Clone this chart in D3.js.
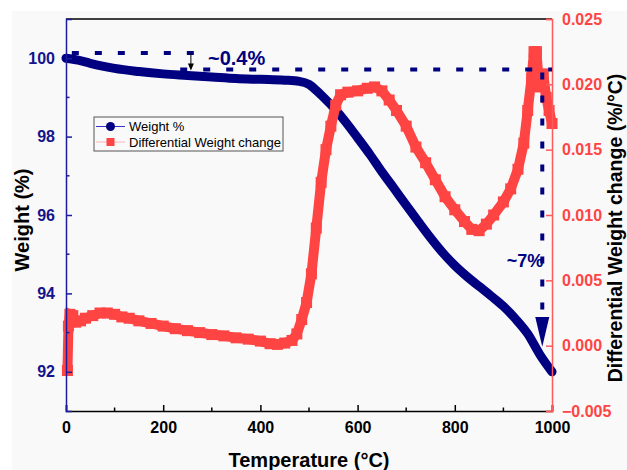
<!DOCTYPE html>
<html>
<head>
<meta charset="utf-8">
<script src="https://cdn.jsdelivr.net/npm/d3@7"></script>
<style>
  body { margin: 0; background: #fff; }
  text { font-family: Arial, "Liberation Sans", sans-serif; }
</style>
</head>
<body>
<svg width="627" height="470"></svg>
<script>
// size of the picture and the plot box
var width = 627, height = 470;
var plotLeft = 66, plotRight = 552, plotTop = 19, plotBottom = 411;

// weight curve: [temperature, weight %]
var weightData = [
  [0, 100.0], [25, 99.95], [50, 99.87], [75, 99.8], [100, 99.74], [150, 99.66],
  [200, 99.6], [250, 99.56], [300, 99.52], [350, 99.48], [400, 99.46], [450, 99.44],
  [480, 99.41], [500, 99.33], [515, 99.18], [530, 99.0], [550, 98.75], [575, 98.38],
  [600, 97.97], [625, 97.55], [650, 97.1], [675, 96.68], [700, 96.25], [725, 95.83],
  [750, 95.42], [775, 95.04], [800, 94.71], [825, 94.43], [850, 94.18], [875, 93.93],
  [900, 93.67], [925, 93.35], [950, 92.97], [975, 92.44], [1000, 92.0]
];

// differential weight change: [temperature, %/°C]
var diffData = [
  [3, -0.0019], [5, 0.0015], [8, 0.0024], [14, 0.0023], [20, 0.0018], [30, 0.0019],
  [40, 0.0021], [55, 0.0023], [70, 0.0025], [85, 0.0025], [100, 0.0024], [115, 0.0022],
  [130, 0.0021], [150, 0.0019], [175, 0.0017], [200, 0.0015], [225, 0.0013],
  [250, 0.00115], [275, 0.001], [300, 0.00085], [325, 0.00075], [350, 0.0006],
  [375, 0.0005], [400, 0.00035], [420, 0.00015], [435, 0.0001], [450, 0.0002],
  [465, 0.0004], [475, 0.0009], [485, 0.002], [495, 0.0033], [505, 0.0055],
  [515, 0.009], [525, 0.0125], [535, 0.015], [545, 0.0168], [555, 0.0184],
  [565, 0.0192], [580, 0.0194], [600, 0.0195], [620, 0.0197], [635, 0.0198],
  [650, 0.0195], [665, 0.0188], [680, 0.018], [700, 0.0168], [720, 0.0152],
  [740, 0.014], [760, 0.0127], [780, 0.0114], [800, 0.0104], [820, 0.0095],
  [835, 0.0089], [850, 0.0088], [865, 0.0093], [880, 0.01], [900, 0.011],
  [915, 0.012], [930, 0.0135], [942, 0.0155], [950, 0.018], [958, 0.0205],
  [963, 0.0225], [968, 0.0225], [972, 0.0205], [976, 0.0198], [982, 0.0208],
  [988, 0.019], [994, 0.018], [1000, 0.017]
];

// tick labels
var xTicks = [0, 200, 400, 600, 800, 1000];
var xMinor = [100, 300, 500, 700, 900];
var yTicks = [92, 94, 96, 98, 100];
var yMinor = [93, 95, 97, 99];
var y2Ticks = [-0.005, 0, 0.005, 0.01, 0.015, 0.02, 0.025];

// annotation values
var smallDrop = {t0: 12, t1: 266, from: 100.13, to: 99.71, arrowT: 257};
var bigDrop = {t0: 235, t1: 1000, level: 99.71, arrowT: 980, headTop: 93.4, headTip: 92.64};

var navy = '#000080', red = '#ff4444';
var font = 'Arial, "Liberation Sans", sans-serif';

var svg = d3.select('svg');

svg.append('rect').attr('x', 12).attr('y', 11)
  .attr('width', width - 12).attr('height', height - 11).attr('fill', '#f9f9f9');

var x = d3.scaleLinear().domain([0, 1000]).range([plotLeft, plotRight]);
var y = d3.scaleLinear().domain([91, 101]).range([plotBottom, plotTop]);
var y2 = d3.scaleLinear().domain([-0.005, 0.025]).range([plotBottom, plotTop]);

// curves
var weightLine = d3.line()
  .x(function(d) { return x(d[0]); })
  .y(function(d) { return y(d[1]); })
  .curve(d3.curveMonotoneX);

svg.append('path').datum(weightData)
  .attr('d', weightLine)
  .attr('fill', 'none').attr('stroke', navy)
  .attr('stroke-width', 9).attr('stroke-linecap', 'round');

var diffLine = d3.line()
  .x(function(d) { return x(d[0]); })
  .y(function(d) { return y2(d[1]); });

svg.append('path').datum(diffData)
  .attr('d', diffLine)
  .attr('fill', 'none').attr('stroke', red)
  .attr('stroke-width', 10);

svg.append('g').selectAll('rect').data(diffData).enter()
  .append('rect')
  .attr('x', function(d) { return x(d[0]) - 5.5; })
  .attr('y', function(d) { return y2(d[1]) - 5.5; })
  .attr('width', 11).attr('height', 11)
  .attr('fill', red);

// top border
svg.append('line').attr('x1', plotLeft).attr('x2', plotRight).attr('y1', plotTop).attr('y2', plotTop)
  .attr('stroke', '#000').attr('stroke-width', 1.5);

// bottom axis
var gx = svg.append('g').attr('transform', 'translate(0,' + plotBottom + ')')
  .call(d3.axisBottom(x).tickValues(xTicks).tickSize(-6).tickPadding(11).tickFormat(d3.format('d')));
gx.append('g').selectAll('line').data(xMinor).enter().append('line')
  .attr('x1', x).attr('x2', x).attr('y1', 0).attr('y2', -3.5);
gx.select('.domain').attr('stroke', '#000').attr('stroke-width', 1.5);
gx.selectAll('line').attr('stroke', '#000').attr('stroke-width', 1.5);
gx.selectAll('text').attr('font-size', 16).attr('font-weight', 'bold').attr('fill', '#000')
  .attr('font-family', font);

// left axis
var gy = svg.append('g').attr('transform', 'translate(' + plotLeft + ',0)')
  .call(d3.axisLeft(y).tickValues(yTicks).tickSize(-6).tickPadding(11).tickFormat(d3.format('d')));
gy.append('g').selectAll('line').data(yMinor).enter().append('line')
  .attr('y1', y).attr('y2', y).attr('x1', 0).attr('x2', 3.5);
gy.select('.domain').attr('stroke', '#1c1ca0').attr('stroke-width', 1.5);
gy.selectAll('line').attr('stroke', '#1c1ca0').attr('stroke-width', 1.5);
gy.selectAll('text').attr('font-size', 16).attr('font-weight', 'bold').attr('fill', '#14148c')
  .attr('font-family', font);

// right axis
var gy2 = svg.append('g').attr('transform', 'translate(' + plotRight + ',0)')
  .call(d3.axisRight(y2).tickValues(y2Ticks).tickSize(-6).tickPadding(10).tickFormat(d3.format('.3f')));
gy2.select('.domain').attr('stroke', '#ff5a5a').attr('stroke-width', 1.5);
gy2.selectAll('line').attr('stroke', '#ff5a5a').attr('stroke-width', 1.5);
gy2.selectAll('text').attr('font-size', 16).attr('font-weight', 'bold').attr('fill', red)
  .attr('font-family', font);

// axis titles
svg.append('text').attr('x', (plotLeft + plotRight) / 2).attr('y', 467)
  .attr('text-anchor', 'middle').attr('font-size', 20).attr('font-weight', 'bold')
  .text('Temperature (°C)');
svg.append('text').attr('transform', 'translate(29,220) rotate(-90)')
  .attr('text-anchor', 'middle').attr('font-size', 20).attr('font-weight', 'bold')
  .text('Weight (%)');
svg.append('text').attr('transform', 'translate(622,228) rotate(-90)')
  .attr('text-anchor', 'middle').attr('font-size', 19.5).attr('font-weight', 'bold')
  .text('Differential Weight change (%/°C)');

// annotations
var dash = svg.append('g').attr('fill', 'none').attr('stroke', navy)
  .attr('stroke-width', 4).attr('stroke-dasharray', '7,16');
dash.append('line').attr('x1', x(smallDrop.t0)).attr('x2', x(smallDrop.t1))
  .attr('y1', y(smallDrop.from)).attr('y2', y(smallDrop.from));
dash.append('line').attr('x1', x(bigDrop.t0)).attr('x2', x(bigDrop.t1))
  .attr('y1', y(bigDrop.level)).attr('y2', y(bigDrop.level));
dash.append('line').attr('x1', x(bigDrop.arrowT)).attr('x2', x(bigDrop.arrowT))
  .attr('y1', y(bigDrop.level) + 3).attr('y2', y(bigDrop.headTop));

var ax = x(bigDrop.arrowT);
svg.append('path')
  .attr('d', 'M' + (ax - 7) + ',' + y(bigDrop.headTop) + 'L' + (ax + 7) + ',' + y(bigDrop.headTop) +
    'L' + ax + ',' + y(bigDrop.headTip) + 'Z')
  .attr('fill', navy);

var sx = x(smallDrop.arrowT);
svg.append('line').attr('x1', sx).attr('x2', sx)
  .attr('y1', y(smallDrop.from)).attr('y2', y(smallDrop.to) - 4)
  .attr('stroke', '#000').attr('stroke-width', 1);
svg.append('path')
  .attr('d', 'M' + (sx - 3) + ',' + (y(smallDrop.to) - 6) + 'L' + (sx + 3) + ',' + (y(smallDrop.to) - 6) +
    'L' + sx + ',' + (y(smallDrop.to) + 1) + 'Z')
  .attr('fill', '#000');

svg.append('text').attr('x', 208).attr('y', 65)
  .attr('font-size', 20).attr('font-weight', 'bold').attr('fill', navy)
  .text('~0.4%');
svg.append('text').attr('x', ax + 1).attr('y', 267).attr('text-anchor', 'end')
  .attr('font-size', 18).attr('font-weight', 'bold').attr('fill', navy)
  .text('~7%');

// legend
var lg = svg.append('g').attr('transform', 'translate(94,117)');
lg.append('rect').attr('width', 189).attr('height', 34)
  .attr('fill', '#f9f9f9').attr('stroke', '#555').attr('stroke-width', 1);
lg.append('line').attr('x1', 2).attr('x2', 31).attr('y1', 9.5).attr('y2', 9.5)
  .attr('stroke', '#3333cc').attr('stroke-width', 1);
lg.append('circle').attr('cx', 16.5).attr('cy', 9.5).attr('r', 4.5).attr('fill', navy);
lg.append('text').attr('x', 35).attr('y', 14).attr('font-size', 13).text('Weight %');
lg.append('line').attr('x1', 2).attr('x2', 31).attr('y1', 25).attr('y2', 25)
  .attr('stroke', '#ffb4b4').attr('stroke-width', 1);
lg.append('rect').attr('x', 12.5).attr('y', 21).attr('width', 8).attr('height', 8).attr('fill', red);
lg.append('text').attr('x', 35).attr('y', 29.5).attr('font-size', 13).text('Differential Weight change');
</script>
</body>
</html>
